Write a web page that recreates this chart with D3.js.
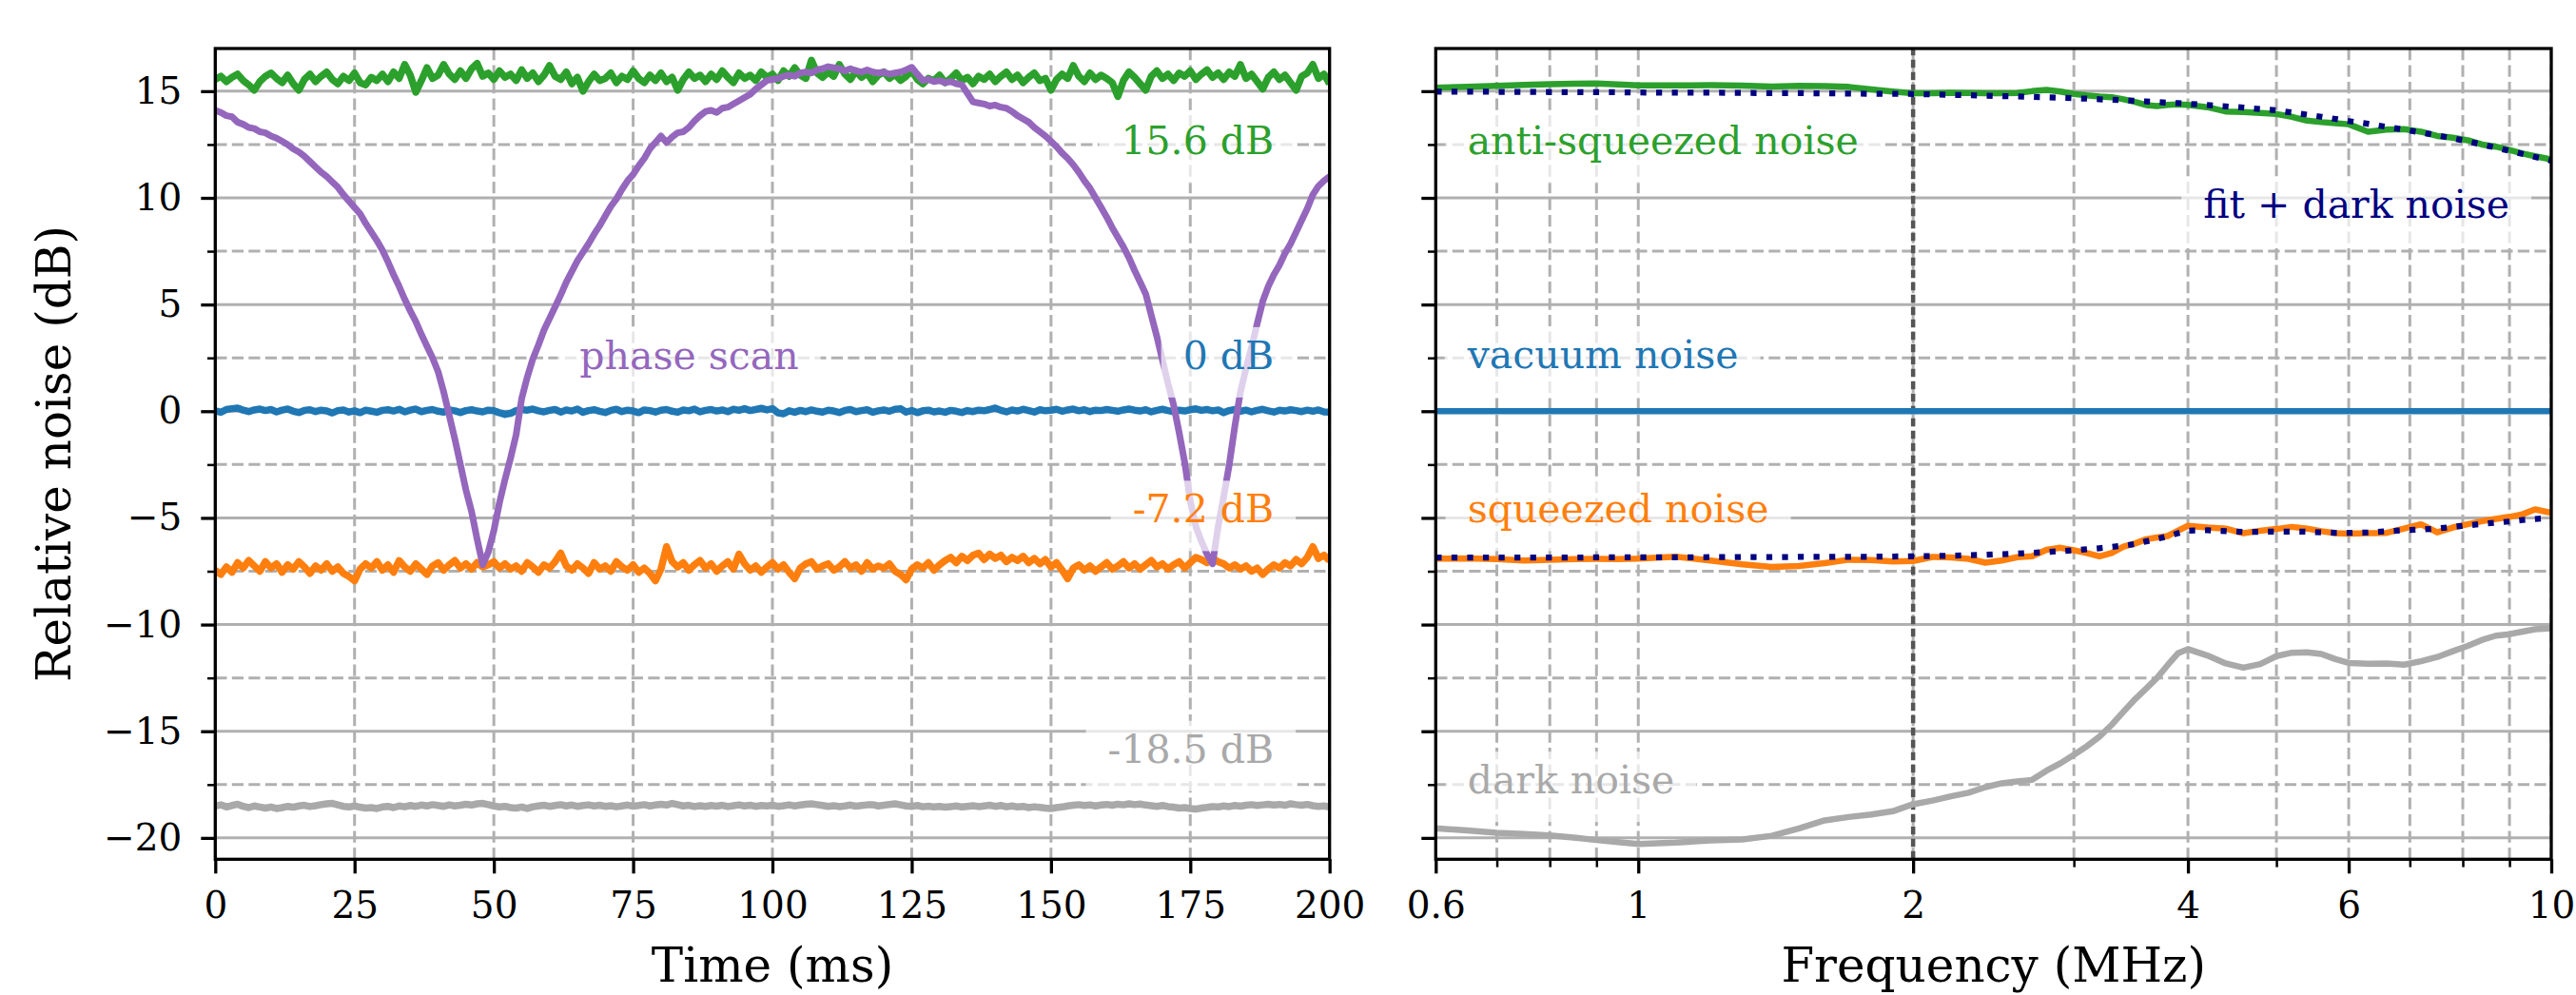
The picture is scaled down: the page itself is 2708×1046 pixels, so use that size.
<!DOCTYPE html>
<html>
<head>
<meta charset="utf-8">
<script src="https://cdn.jsdelivr.net/npm/d3@7"></script>
<style>
  body { margin: 0; background: #fff; }
</style>
</head>
<body>
<svg id="canvas" width="2708" height="1046"></svg>
<script>
// ---------- time-trace panel data (one sample per ms, 0..200 ms)
const timeMs = d3.range(0, 201)

const antiSqueezedTrace = [
15.55,15.70,15.45,15.65,15.80,15.50,15.30,15.05,15.45,15.70,
15.85,15.60,15.40,15.75,15.35,15.05,15.55,15.80,15.45,15.70,
15.90,15.55,15.35,15.70,15.50,15.85,15.40,15.30,15.65,15.50,
15.80,15.45,15.90,15.60,16.25,15.75,14.95,15.50,16.10,15.60,
15.75,16.25,15.80,15.55,15.95,15.60,16.05,16.30,15.70,15.85,
15.55,15.95,15.65,15.80,15.50,16.00,15.60,15.85,15.45,15.75,
16.20,15.70,15.55,15.90,15.35,15.65,15.00,15.45,15.80,15.50,
15.60,15.85,15.40,15.70,15.55,15.95,15.60,15.40,15.75,15.50,
15.85,15.45,15.65,15.05,15.55,15.90,15.60,15.75,15.45,15.80,
15.55,15.95,15.65,15.40,15.85,15.60,15.75,15.50,15.90,15.65,
15.80,15.50,15.95,15.70,16.10,15.75,15.60,16.45,15.85,15.65,
15.90,15.70,16.25,15.80,15.55,15.95,15.65,15.85,15.45,15.75,
15.90,15.60,15.80,15.50,15.70,15.95,15.55,15.35,15.60,15.50,
15.75,15.40,15.60,15.85,15.50,15.65,15.35,15.70,15.55,15.80,
15.45,15.70,15.90,15.55,15.75,15.40,15.65,15.85,15.50,15.60,
15.05,15.55,15.80,15.60,16.20,15.70,15.45,15.85,15.55,15.75,
15.60,15.40,14.75,15.50,15.90,15.65,15.35,15.05,15.70,15.95,
15.60,15.80,15.50,15.85,15.70,15.95,15.55,15.80,16.00,15.65,
15.85,15.55,15.90,15.70,16.25,15.60,15.80,15.45,15.10,15.65,
15.90,15.55,15.75,15.40,15.05,15.70,15.85,16.25,15.60,15.80,
15.35]

const vacuumTrace = [
0.02,-0.05,0.08,0.12,0.15,0.05,-0.02,0.06,0.10,0.03,
0.08,-0.03,0.05,0.10,0.00,-0.06,0.04,0.07,-0.02,0.05,
0.01,-0.08,0.03,0.06,-0.04,0.02,-0.07,0.05,0.00,-0.05,
0.04,0.07,0.01,0.09,-0.03,0.05,0.10,-0.02,0.04,0.08,
0.00,-0.04,0.06,0.02,-0.06,0.03,0.07,0.01,-0.03,0.05,
0.02,-0.07,-0.15,-0.10,0.03,0.08,0.05,0.10,0.02,-0.03,
0.04,0.08,-0.04,0.06,0.01,0.10,-0.05,0.03,0.07,0.00,
-0.06,0.04,0.09,-0.02,0.05,0.01,-0.07,0.06,0.03,-0.04,
0.05,0.08,0.00,-0.05,0.06,0.02,0.10,-0.03,0.04,0.08,
0.01,0.06,-0.02,0.09,0.04,0.12,0.03,0.08,0.14,0.06,
0.12,-0.08,-0.12,0.02,-0.05,0.04,-0.02,0.06,0.00,-0.04,
0.05,0.01,-0.06,0.04,0.08,-0.02,0.03,0.07,-0.05,0.02,
0.06,0.00,0.09,0.12,-0.04,0.03,-0.07,0.02,0.05,-0.03,
0.01,-0.05,0.04,0.00,-0.06,0.03,-0.02,0.05,0.02,0.08,
0.15,0.04,-0.03,0.06,0.01,0.09,0.03,-0.04,0.07,0.02,
0.05,0.09,0.00,0.06,0.10,0.02,0.07,-0.02,0.05,0.03,
0.08,0.04,0.00,0.06,0.10,0.05,0.01,0.07,-0.03,0.04,
0.09,0.03,-0.02,0.05,0.01,0.07,0.11,0.04,0.08,0.02,
0.06,-0.07,0.03,0.08,0.00,0.05,-0.03,0.04,0.09,0.02,
-0.04,0.05,0.01,0.07,0.03,-0.02,0.05,0.00,0.06,-0.03,
-0.04]

const squeezedTrace = [
-7.45,-7.65,-7.30,-7.55,-7.10,-7.35,-7.00,-7.25,-7.50,-7.05,
-7.35,-7.15,-7.55,-7.20,-7.40,-7.05,-7.30,-7.60,-7.25,-7.45,
-7.15,-7.50,-7.30,-7.60,-7.75,-7.95,-7.40,-7.15,-7.35,-7.05,
-7.45,-7.20,-7.55,-7.00,-7.30,-7.50,-7.15,-7.40,-7.65,-7.25,
-7.10,-7.45,-7.20,-7.00,-7.35,-7.15,-7.40,-7.10,-7.30,-7.20,
-7.05,-7.35,-7.15,-7.40,-7.25,-7.50,-7.10,-7.30,-7.55,-7.20,
-7.35,-7.05,-6.65,-7.25,-7.45,-7.15,-7.35,-7.60,-7.10,-7.40,
-7.25,-7.50,-7.05,-7.30,-7.45,-7.20,-7.55,-7.35,-7.60,-7.95,
-7.40,-6.35,-7.05,-7.30,-7.10,-7.45,-7.20,-7.00,-7.35,-7.15,
-7.50,-7.25,-7.05,-7.40,-6.70,-7.15,-7.45,-7.25,-7.55,-7.30,
-7.10,-7.40,-7.20,-7.55,-7.85,-7.35,-7.15,-7.05,-7.40,-7.25,
-7.15,-7.45,-7.30,-7.05,-7.35,-7.20,-7.50,-7.10,-7.40,-7.25,
-7.35,-7.15,-7.50,-7.65,-7.90,-7.40,-7.20,-7.35,-7.10,-7.45,
-7.20,-7.00,-6.85,-7.10,-6.80,-7.00,-6.75,-6.65,-6.95,-6.70,
-6.90,-6.75,-7.05,-6.85,-7.00,-6.80,-7.10,-6.90,-7.15,-6.95,
-7.30,-7.10,-7.45,-7.85,-7.35,-7.20,-7.45,-7.25,-7.50,-7.30,
-7.10,-7.40,-7.25,-7.05,-7.35,-7.15,-7.40,-7.20,-7.00,-7.30,
-7.15,-7.40,-7.20,-7.05,-7.35,-7.10,-6.85,-6.95,-7.10,-6.90,
-7.05,-7.15,-7.35,-7.20,-7.40,-7.25,-7.50,-7.35,-7.65,-7.40,
-7.20,-7.35,-7.10,-7.25,-6.95,-7.15,-6.85,-6.35,-6.90,-6.75,
-7.00]

const darkTrace = [
-18.50,-18.45,-18.55,-18.48,-18.42,-18.52,-18.58,-18.50,-18.55,-18.60,
-18.55,-18.62,-18.58,-18.52,-18.56,-18.50,-18.47,-18.53,-18.49,-18.44,
-18.40,-18.38,-18.45,-18.52,-18.55,-18.50,-18.56,-18.60,-18.58,-18.62,
-18.55,-18.52,-18.58,-18.50,-18.54,-18.48,-18.52,-18.46,-18.50,-18.44,
-18.48,-18.52,-18.45,-18.50,-18.47,-18.42,-18.46,-18.40,-18.38,-18.44,
-18.50,-18.55,-18.52,-18.58,-18.60,-18.55,-18.62,-18.54,-18.50,-18.47,
-18.52,-18.48,-18.44,-18.50,-18.46,-18.52,-18.48,-18.45,-18.50,-18.47,
-18.52,-18.49,-18.54,-18.50,-18.46,-18.51,-18.48,-18.44,-18.50,-18.46,
-18.42,-18.46,-18.38,-18.44,-18.50,-18.47,-18.53,-18.49,-18.52,-18.48,
-18.51,-18.47,-18.53,-18.49,-18.45,-18.50,-18.47,-18.52,-18.48,-18.50,
-18.47,-18.52,-18.49,-18.45,-18.50,-18.46,-18.42,-18.40,-18.44,-18.48,
-18.52,-18.49,-18.53,-18.50,-18.46,-18.51,-18.48,-18.45,-18.44,-18.50,
-18.47,-18.43,-18.40,-18.45,-18.50,-18.52,-18.48,-18.54,-18.51,-18.55,
-18.52,-18.56,-18.53,-18.50,-18.55,-18.52,-18.49,-18.53,-18.50,-18.47,
-18.52,-18.48,-18.54,-18.50,-18.55,-18.52,-18.58,-18.54,-18.57,-18.60,
-18.62,-18.58,-18.55,-18.50,-18.47,-18.44,-18.48,-18.45,-18.50,-18.46,
-18.43,-18.47,-18.42,-18.45,-18.40,-18.44,-18.41,-18.46,-18.49,-18.52,
-18.48,-18.53,-18.56,-18.60,-18.58,-18.62,-18.65,-18.60,-18.57,-18.53,
-18.55,-18.50,-18.53,-18.48,-18.51,-18.47,-18.44,-18.48,-18.45,-18.42,
-18.46,-18.43,-18.47,-18.40,-18.44,-18.47,-18.43,-18.49,-18.52,-18.50,
-18.55]

const phaseScanTrace = [
14.10,14.00,13.85,13.80,13.55,13.45,13.30,13.25,13.10,13.05,
12.90,12.80,12.65,12.50,12.30,12.15,11.95,11.70,11.45,11.20,
11.00,10.75,10.50,10.15,9.85,9.55,9.25,8.80,8.40,8.00,
7.55,7.00,6.40,5.85,5.25,4.70,4.20,3.60,3.05,2.50,
1.85,0.90,-0.20,-1.30,-2.50,-3.70,-4.70,-6.00,-7.20,-6.60,
-5.60,-4.30,-3.20,-2.20,-1.10,0.60,1.60,2.45,3.10,3.80,
4.35,4.90,5.45,6.05,6.55,7.05,7.45,7.85,8.30,8.70,
9.15,9.60,9.95,10.40,10.80,11.10,11.50,11.85,12.30,12.60,
12.90,12.60,12.85,13.05,13.10,13.30,13.60,13.85,14.05,14.10,
14.00,14.20,14.25,14.40,14.55,14.70,14.85,15.10,15.30,15.50,
15.55,15.60,15.70,15.75,15.70,15.85,15.90,15.85,16.00,16.05,
16.15,16.10,16.05,15.95,16.05,15.95,15.90,16.00,15.90,15.85,
15.90,15.80,15.85,15.90,16.00,16.12,15.80,15.50,15.55,15.45,
15.50,15.40,15.45,15.35,15.30,14.90,14.50,14.45,14.40,14.30,
14.35,14.25,14.20,14.05,13.85,13.70,13.55,13.30,13.10,12.90,
12.65,12.40,12.10,11.85,11.55,11.20,10.80,10.45,10.00,9.55,
9.10,8.60,8.15,7.70,7.20,6.60,6.05,5.50,4.50,3.50,
2.40,1.30,0.30,-1.00,-2.40,-4.20,-5.40,-6.10,-6.70,-7.15,
-5.40,-4.00,-2.50,-0.70,0.90,2.00,3.00,4.10,5.15,5.85,
6.40,6.85,7.40,7.85,8.40,8.95,9.50,10.15,10.55,10.80,
11.00]

// ---------- spectrum panel data
const freqMHz = [0.6,0.65,0.7,0.75,0.8,0.85,0.9,0.95,
  1.0,1.1,1.2,1.3,1.4,1.5,1.6,1.7,1.8,1.9,
  2.0,2.1,2.2,2.3,2.4,2.5,2.6,2.7,2.8,2.9,
  3.0,3.1,3.2,3.3,3.4,3.5,3.6,3.7,3.8,3.9,
  4.0,4.2,4.4,4.6,4.8,5.0,5.2,5.4,5.6,5.8,6.0,
  6.3,6.6,6.9,7.2,7.5,7.8,8.1,8.4,8.7,9.0,9.3,9.6,10.0]

const antiSpectrum = [15.16,15.20,15.25,15.30,15.33,15.35,15.36,15.32,
  15.27,15.27,15.28,15.26,15.22,15.25,15.24,15.20,15.08,14.98,
  14.90,14.90,14.93,14.92,14.90,14.90,14.92,15.00,15.06,14.98,
  14.87,14.80,14.75,14.72,14.62,14.50,14.35,14.30,14.36,14.38,
  14.36,14.25,14.05,14.02,13.98,13.93,13.80,13.62,13.55,13.50,13.45,
  13.10,13.20,13.22,13.10,12.90,12.82,12.70,12.50,12.40,12.25,12.08,11.95,11.80]

const antiFit = [14.98,14.98,14.97,14.97,14.96,14.96,14.95,14.95,
  14.94,14.93,14.93,14.92,14.91,14.91,14.90,14.89,14.88,14.88,
  14.87,14.85,14.83,14.81,14.79,14.77,14.75,14.73,14.71,14.69,
  14.67,14.65,14.62,14.60,14.57,14.55,14.52,14.49,14.46,14.44,
  14.41,14.35,14.29,14.23,14.16,14.10,14.00,13.90,13.80,13.70,13.60,
  13.47,13.33,13.20,13.06,12.93,12.79,12.65,12.50,12.35,12.20,12.06,11.92,11.74]

const vacuumFreq = [0.6, 10]
const vacuumSpectrum = [0, 0]

const squeezedSpectrum = [-6.91,-6.90,-6.93,-7.00,-6.97,-6.93,-6.92,-6.93,
  -6.91,-6.82,-7.00,-7.18,-7.30,-7.25,-7.12,-6.96,-6.98,-7.04,
  -7.02,-6.83,-6.85,-6.92,-7.10,-7.00,-6.84,-6.80,-6.50,-6.40,
  -6.52,-6.65,-6.80,-6.65,-6.35,-6.20,-6.00,-5.92,-5.85,-5.60,
  -5.37,-5.45,-5.50,-5.72,-5.60,-5.52,-5.42,-5.50,-5.62,-5.72,-5.74,
  -5.72,-5.70,-5.50,-5.30,-5.68,-5.45,-5.30,-5.15,-5.05,-4.95,-4.83,-4.60,-4.76]

const squeezedFit = [-6.86,-6.86,-6.86,-6.86,-6.86,-6.86,-6.85,-6.85,
  -6.85,-6.85,-6.84,-6.84,-6.84,-6.83,-6.83,-6.82,-6.82,-6.81,
  -6.80,-6.79,-6.77,-6.75,-6.73,-6.70,-6.67,-6.64,-6.60,-6.56,
  -6.52,-6.47,-6.42,-6.36,-6.30,-6.23,-6.10,-5.98,-5.87,-5.72,
  -5.60,-5.58,-5.62,-5.66,-5.65,-5.64,-5.64,-5.65,-5.68,-5.70,-5.70,
  -5.68,-5.63,-5.58,-5.55,-5.50,-5.42,-5.35,-5.28,-5.22,-5.17,-5.10,-5.05,-5.00]

const darkSpectrum = [-19.55,-19.65,-19.76,-19.82,-19.88,-19.98,-20.10,-20.20,
  -20.28,-20.22,-20.12,-20.07,-19.90,-19.55,-19.18,-19.02,-18.90,-18.75,
  -18.42,-18.25,-18.05,-17.88,-17.62,-17.44,-17.35,-17.28,-16.85,-16.50,
  -16.10,-15.70,-15.25,-14.70,-14.08,-13.50,-13.00,-12.50,-11.90,-11.35,
  -11.15,-11.45,-11.82,-12.02,-11.85,-11.48,-11.32,-11.30,-11.38,-11.62,-11.80,
  -11.84,-11.82,-11.88,-11.72,-11.52,-11.25,-11.00,-10.72,-10.52,-10.45,-10.33,-10.22,-10.18]

// ---------- ticks
const yTicks = [-20, -15, -10, -5, 0, 5, 10, 15]
const yMinorTicks = [-17.5, -12.5, -7.5, -2.5, 2.5, 7.5, 12.5]
const timeTicks = [0, 25, 50, 75, 100, 125, 150, 175, 200]
const freqTicks = [0.6, 1, 2, 4, 6, 10]
const freqMinorTicks = [0.7, 0.8, 0.9, 3, 5, 7, 8, 9]
const markerFreq = [2]

const timeLabels = ["15.6 dB", "0 dB", "-7.2 dB", "-18.5 dB", "phase scan"]
const freqLabels = ["anti-squeezed noise", "fit + dark noise", "vacuum noise", "squeezed noise", "dark noise"]

const C = {
  blue: "#1f77b4", orange: "#ff7f0e", green: "#2ca02c", purple: "#9467bd",
  dark: "#a9a9a9", fit: "#000080", grid: "#b0b0b0"
}
const FONT = '"DejaVu Serif", serif'

const svg = d3.select("#canvas")

const plotTop = 51, plotBottom = 903.3
const y = d3.scaleLinear().domain([-21, 17]).range([plotBottom, plotTop])
const xTime = d3.scaleLinear().domain([0, 200]).range([226.3, 1397.7])
const xFreq = d3.scaleLog().domain([0.6, 10]).range([1509.3, 2682])

const fmtMinus = d => d < 0 ? "\u2212" + Math.abs(d) : String(d)

function hgrid(g, x) {
  const [x0, x1] = x.range()
  g.selectAll(null).data(yTicks).enter().append("line")
    .attr("x1", x0).attr("x2", x1).attr("y1", d => y(d)).attr("y2", d => y(d))
    .attr("stroke", C.grid).attr("stroke-width", 3)
  g.selectAll(null).data(yMinorTicks).enter().append("line")
    .attr("x1", x0).attr("x2", x1).attr("y1", d => y(d)).attr("y2", d => y(d))
    .attr("stroke", C.grid).attr("stroke-width", 3).attr("stroke-dasharray", "12.2,5.3")
}

function vgrid(g, x, vals) {
  g.selectAll(null).data(vals).enter().append("line")
    .attr("x1", d => x(d)).attr("x2", d => x(d)).attr("y1", plotBottom).attr("y2", plotTop)
    .attr("stroke", C.grid).attr("stroke-width", 3).attr("stroke-dasharray", "12.2,5.3")
}

function styleAxis(a, w) {
  a.attr("font-family", FONT).attr("font-size", 39)
  a.select(".domain").remove()
  a.selectAll(".tick line").attr("stroke", "#000").attr("stroke-width", w)
  a.selectAll(".tick text").attr("fill", "#000")
}

function axes(x, xTickVals, xMinor, fmtX, yLabels) {
  const [x0, x1] = x.range()
  const ay = svg.append("g").attr("transform", `translate(${x0},0)`)
    .call(d3.axisLeft(y).tickValues(yTicks).tickSize(15).tickPadding(20)
      .tickFormat(yLabels ? fmtMinus : () => ""))
  styleAxis(ay, 3.3)
  const ayMinor = svg.append("g").attr("transform", `translate(${x0},0)`)
    .call(d3.axisLeft(y).tickValues(yMinorTicks).tickSize(8.3).tickFormat(() => ""))
  styleAxis(ayMinor, 2.5)

  const ax = svg.append("g").attr("transform", `translate(0,${plotBottom})`)
    .call(d3.axisBottom(x).tickValues(xTickVals).tickSize(15).tickPadding(19).tickFormat(fmtX))
  styleAxis(ax, 3.3)
  if (xMinor) {
    const axMinor = svg.append("g").attr("transform", `translate(0,${plotBottom})`)
      .call(d3.axisBottom(x).tickValues(xMinor).tickSize(8.3).tickFormat(() => ""))
    styleAxis(axMinor, 2.5)
  }
  svg.append("rect").attr("x", x0).attr("y", plotTop).attr("width", x1 - x0).attr("height", plotBottom - plotTop)
    .attr("fill", "none").attr("stroke", "#000").attr("stroke-width", 3.3)
}

function clipFor(id, x) {
  const [x0, x1] = x.range()
  svg.append("clipPath").attr("id", id).append("rect")
    .attr("x", x0).attr("y", plotTop).attr("width", x1 - x0).attr("height", plotBottom - plotTop)
  return svg.append("g").attr("clip-path", `url(#${id})`)
}

function label(g, xpx, yVal, txt, color, anchor) {
  const base = y(yVal) + 15
  const t = g.append("text").attr("x", xpx).attr("y", base).attr("text-anchor", anchor)
    .attr("font-family", FONT).attr("font-size", 41).attr("fill", color).text(txt)
  const b = t.node().getBBox()
  g.insert("rect", () => t.node())
    .attr("x", b.x - 23).attr("y", base - 44).attr("width", b.width + 46).attr("height", 74)
    .attr("fill", "#fff").attr("fill-opacity", 0.7)
}

// ================= left panel: time traces
const gL = clipFor("clipL", xTime)
hgrid(gL, xTime)
vgrid(gL, xTime, timeTicks)

const lineT = d3.line().x((d, i) => xTime(timeMs[i])).y(d => y(d))
const traces = [
  [antiSqueezedTrace, C.green, 7.5],
  [vacuumTrace, C.blue, 7.5],
  [squeezedTrace, C.orange, 7.5],
  [darkTrace, C.dark, 7.5],
  [phaseScanTrace, C.purple, 7]
]
gL.selectAll(null).data(traces).enter().append("path")
  .attr("d", d => lineT(d[0]))
  .attr("fill", "none").attr("stroke", d => d[1]).attr("stroke-width", d => d[2])
  .attr("stroke-linejoin", "round")

const gLT = svg.append("g")
label(gLT, xTime(190), 12.7, timeLabels[0], C.green, "end")
label(gLT, xTime(190), 2.65, timeLabels[1], C.blue, "end")
label(gLT, xTime(190), -4.55, timeLabels[2], C.orange, "end")
label(gLT, xTime(190), -15.8, timeLabels[3], C.dark, "end")
label(gLT, xTime(65.4), 2.65, timeLabels[4], C.purple, "start")

axes(xTime, timeTicks, null, d => String(d), true)

// ================= right panel: spectra
const gR = clipFor("clipR", xFreq)
hgrid(gR, xFreq)
vgrid(gR, xFreq, freqTicks.concat(freqMinorTicks))

gR.selectAll(null).data(markerFreq).enter().append("line")
  .attr("x1", d => xFreq(d)).attr("x2", d => xFreq(d)).attr("y1", plotBottom).attr("y2", plotTop)
  .attr("stroke", "#555").attr("stroke-width", 4.5).attr("stroke-dasharray", "8.5,4.5")

const lineF = d3.line().x((d, i) => xFreq(freqMHz[i])).y(d => y(d))
const lineV = d3.line().x((d, i) => xFreq(vacuumFreq[i])).y(d => y(d))

gR.append("path").attr("d", lineF(antiSpectrum)).attr("fill", "none")
  .attr("stroke", C.green).attr("stroke-width", 6.5).attr("stroke-linejoin", "round")
gR.append("path").attr("d", lineV(vacuumSpectrum)).attr("fill", "none")
  .attr("stroke", C.blue).attr("stroke-width", 6.5)
gR.append("path").attr("d", lineF(squeezedSpectrum)).attr("fill", "none")
  .attr("stroke", C.orange).attr("stroke-width", 6.5).attr("stroke-linejoin", "round")
gR.append("path").attr("d", lineF(darkSpectrum)).attr("fill", "none")
  .attr("stroke", C.dark).attr("stroke-width", 6.5).attr("stroke-linejoin", "round")
gR.selectAll(null).data([antiFit, squeezedFit]).enter().append("path")
  .attr("d", d => lineF(d)).attr("fill", "none")
  .attr("stroke", C.fit).attr("stroke-width", 6.25).attr("stroke-dasharray", "6.25,10.3")

const gRT = svg.append("g")
label(gRT, xFreq(0.65), 12.7, freqLabels[0], C.green, "start")
label(gRT, xFreq(9.0), 9.73, freqLabels[1], C.fit, "end")
label(gRT, xFreq(0.65), 2.69, freqLabels[2], C.blue, "start")
label(gRT, xFreq(0.65), -4.55, freqLabels[3], C.orange, "start")
label(gRT, xFreq(0.65), -17.25, freqLabels[4], C.dark, "start")

axes(xFreq, freqTicks, freqMinorTicks, d => String(d), false)

// ================= axis titles
svg.append("text").attr("transform", "translate(74,477) rotate(-90)")
  .attr("text-anchor", "middle").attr("font-family", FONT).attr("font-size", 50)
  .text("Relative noise (dB)")
svg.append("text").attr("x", (xTime.range()[0] + xTime.range()[1]) / 2).attr("y", 1032)
  .attr("text-anchor", "middle").attr("font-family", FONT).attr("font-size", 50)
  .text("Time (ms)")
svg.append("text").attr("x", (xFreq.range()[0] + xFreq.range()[1]) / 2).attr("y", 1032)
  .attr("text-anchor", "middle").attr("font-family", FONT).attr("font-size", 50)
  .text("Frequency (MHz)")
</script>
</body>
</html>
